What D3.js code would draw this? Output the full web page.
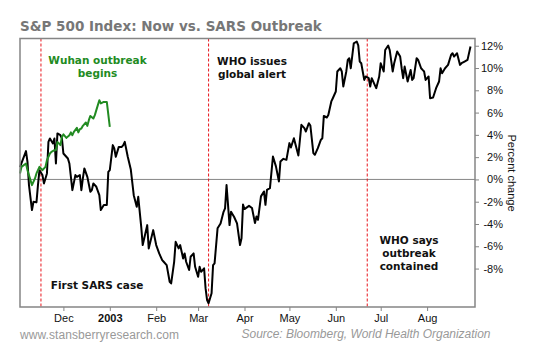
<!DOCTYPE html>
<html><head><meta charset="utf-8">
<script src="https://cdn.jsdelivr.net/npm/d3@7"></script>
<style>body{margin:0;background:#fff} svg{display:block}</style>
</head><body>
<svg id="c" width="544" height="357"></svg>
<script>
// ---------- DATA ----------
const startDate = "2002-11-02";
const endDate = "2003-09-02";
// S&P 500 2002-03, day offsets from startDate and percent change
const spDay = [0,4,5,6,8,9,11,12,13,15,16,18,19,20,22,23,24,25,27,28,29,32,33,35,37,38,40,41,42,43,45,47,48,49,51,53,54,56,58,59,60,62,63,64,66,68,69,70,72,74,
76,78,79,81,82,85,86,89,91,93,95,96,98,100,101,103,104,106,107,109,110,111,113,114,116,117,119,120,121,123,124,125,126,128,129,130,132,134,136,137,138,140,141,143,145,147,148,149,150,153,
155,157,158,159,161,163,164,165,167,169,171,173,174,176,178,180,181,183,184,186,188,190,191,193,194,196,197,199,201,202,203,205,206,208,209,211,212,214,215,216,218,219,220,221,223,225,226,227,
228,230,231,233,234,235,237,238,240,241,243,244,246,247,249,250,252,254,255,256,257,259,261,262,263,265,266,268,269,270,271,273,274,276,278,280,281,282,284,286,288,289,290,292,294,295,297,299,301];
const spPct = [1.10,2.54,1.58,-0.51,-2.75,-2.01,-2.06,-0.51,0.83,0.39,-0.36,0.54,3.37,3.68,3.23,3.68,1.43,4.13,3.97,3.68,2.33,1.88,1.43,-0.96,0.39,0.23,0.39,-0.96,0.09,0.99,0.23,-1.11,-0.96,-0.36,-0.66,-1.41,-2.75,-2.30,-2.30,0.68,0.83,3.08,2.78,2.03,2.92,2.92,3.08,3.37,2.03,0.92,
-1.41,-2.46,-1.56,-4.25,-5.89,-4.10,-6.19,-4.55,-5.89,-6.64,-7.24,-7.39,-7.69,-9.18,-9.33,-7.39,-5.60,-6.19,-5.89,-7.09,-6.64,-7.39,-8.13,-6.94,-6.64,-7.84,-8.74,-7.84,-8.29,-7.98,-9.78,-10.83,-11.12,-10.22,-7.69,-7.53,-4.39,-3.95,-2.91,-2.60,-0.51,-4.10,-2.91,-3.35,-3.95,-5.89,-5.29,-2.26,-2.66,-2.37,
-2.57,-3.92,-3.32,-3.62,-1.52,-1.08,-2.28,-0.93,-0.78,2.06,1.17,-0.18,1.61,1.85,1.76,3.26,2.87,3.70,3.17,2.15,4.90,4.60,4.30,5.05,4.84,2.36,2.21,2.81,3.55,3.70,5.70,5.56,5.79,7.00,7.29,7.89,9.69,9.98,9.69,8.34,9.69,10.73,10.88,9.98,12.22,12.38,12.04,10.58,
10.43,8.93,9.24,9.09,8.34,9.09,8.48,8.19,9.24,10.43,9.69,11.62,12.02,11.62,9.69,10.43,11.48,11.03,9.98,9.09,10.13,8.79,9.83,8.93,9.09,10.88,10.73,9.98,9.83,9.69,8.93,9.24,7.29,7.35,8.19,8.79,9.98,9.53,9.98,10.28,11.17,11.33,11.03,11.33,10.28,10.43,10.58,10.73,11.93];
// S&P 500 since Wuhan outbreak, aligned on the same axis
const wuhanDay = [0,1,4,5,8,10,11,13,15,17,18,20,21,23,24,25,27,28,29,31,33,34,35,36,38,39,40,41,42,44,45,46,47,49,50,51,53,54,56,58,60];
const wuhanPct = [0.54,1.13,1.43,0.83,-0.51,0.09,0.54,1.13,0.83,1.13,1.73,2.33,2.48,2.63,2.63,3.37,3.08,3.82,4.04,3.73,3.97,4.22,3.97,4.27,4.63,4.22,4.51,4.57,4.81,5.11,4.81,5.32,5.70,5.47,5.77,6.22,7.11,6.82,6.96,6.96,4.72];
const eventDates = ["2002-11-16","2003-03-08","2003-06-22"];
const monthTicks = ["2002-12-01","2003-01-01","2003-02-01","2003-03-01","2003-04-01","2003-05-01","2003-06-01","2003-07-01","2003-08-01"];
const monthLabels = ["Dec","2003","Feb","Mar","Apr","May","Jun","Jul","Aug"];
const yTicks = [-8,-6,-4,-2,0,2,4,6,8,10,12];
const yDomain = [-11.45, 12.65];

// ---------- CHART ----------
const parse = d3.timeParse("%Y-%m-%d");
const t0 = parse(startDate);
const svg = d3.select("#c");
const L = 20, R = 475, T = 38.5, B = 307;
const x = d3.scaleTime().domain([t0, parse(endDate)]).range([L, R]);
const y = d3.scaleLinear().domain(yDomain).range([B, T]);
const gray = "#858585";

// title
svg.append("text").attr("x", 20).attr("y", 30.5)
  .attr("font-family", "DejaVu Sans, Verdana, sans-serif").attr("font-weight", "bold")
  .attr("font-size", 13.5).attr("fill", "#777").text("S&P 500 Index: Now vs. SARS Outbreak");

// zero line
svg.append("line").attr("x1", L).attr("x2", R).attr("y1", y(0)).attr("y2", y(0))
  .attr("stroke", gray).attr("stroke-width", 1);

// event lines
svg.selectAll(".ev").data(eventDates).enter().append("line")
  .attr("x1", d => x(parse(d))).attr("x2", d => x(parse(d)))
  .attr("y1", T).attr("y2", B)
  .attr("stroke", "#e8141b").attr("stroke-width", 1).attr("stroke-dasharray", "3,2");

const sp = spDay.map((d, i) => ({ date: d3.timeDay.offset(t0, d), v: spPct[i] }));
const wu = wuhanDay.map((d, i) => ({ date: d3.timeDay.offset(t0, d), v: wuhanPct[i] }));
const line = d3.line().x(d => x(d.date)).y(d => y(d.v));

svg.append("path").datum(sp).attr("d", line).attr("fill", "none")
  .attr("stroke", "#000").attr("stroke-width", 2).attr("stroke-linejoin", "round");
svg.append("path").datum(wu).attr("d", line).attr("fill", "none")
  .attr("stroke", "#228b22").attr("stroke-width", 2).attr("stroke-linejoin", "round");

// border
svg.append("rect").attr("x", L).attr("y", T).attr("width", R - L).attr("height", B - T)
  .attr("fill", "none").attr("stroke", gray).attr("stroke-width", 1.5);

// y axis (right)
const ya = svg.append("g").attr("transform", `translate(${R},0)`)
  .call(d3.axisRight(y).tickValues(yTicks).tickSize(4).tickFormat(d => d + "%"));
ya.select(".domain").remove();
ya.selectAll(".tick line").attr("stroke", gray);
ya.selectAll(".tick text").attr("x", 28).attr("text-anchor", "end")
  .attr("font-family", "Liberation Sans, Arial, sans-serif").attr("font-size", 11).attr("fill", "#111");

// x axis
const xa = svg.append("g").attr("transform", `translate(0,${B})`)
  .call(d3.axisBottom(x).tickValues(monthTicks.map(parse)).tickSize(4)
    .tickFormat((d, i) => monthLabels[i]));
xa.select(".domain").remove();
xa.selectAll(".tick line").attr("stroke", gray);
xa.selectAll(".tick text").attr("font-family", "Liberation Sans, Arial, sans-serif")
  .attr("font-size", 11).attr("fill", "#111")
  .attr("font-weight", (d, i) => monthLabels[i] === "2003" ? "bold" : "normal");

// right axis title
svg.append("text").attr("transform", "translate(508,173) rotate(90)")
  .attr("text-anchor", "middle").attr("font-family", "Liberation Sans, Arial, sans-serif")
  .attr("font-size", 11).attr("fill", "#111").text("Percent change");

// annotations
function note(lines, cx, y0, color) {
  const t = svg.append("text").attr("text-anchor", "middle")
    .attr("font-family", "DejaVu Sans, Verdana, sans-serif").attr("font-weight", "bold")
    .attr("font-size", 10.5).attr("fill", color);
  lines.forEach((s, i) => t.append("tspan").attr("x", cx).attr("y", y0 + i * 13).text(s));
}
note(["Wuhan outbreak", "begins"], 97.5, 64, "#228b22");
note(["WHO issues", "global alert"], 252, 64.5, "#111");
note(["First SARS case"], 97, 288.5, "#111");
note(["WHO says", "outbreak", "contained"], 409, 244, "#111");

// footer
svg.append("text").attr("x", 20).attr("y", 339)
  .attr("font-family", "Liberation Sans, Arial, sans-serif").attr("font-size", 12)
  .attr("fill", "#999").attr("textLength", 159).text("www.stansberryresearch.com");
svg.append("text").attr("x", 241.5).attr("y", 338)
  .attr("font-family", "Liberation Sans, Arial, sans-serif").attr("font-size", 12)
  .attr("font-style", "italic").attr("fill", "#999").attr("textLength", 249)
  .text("Source: Bloomberg, World Health Organization");
</script>
</body></html>
